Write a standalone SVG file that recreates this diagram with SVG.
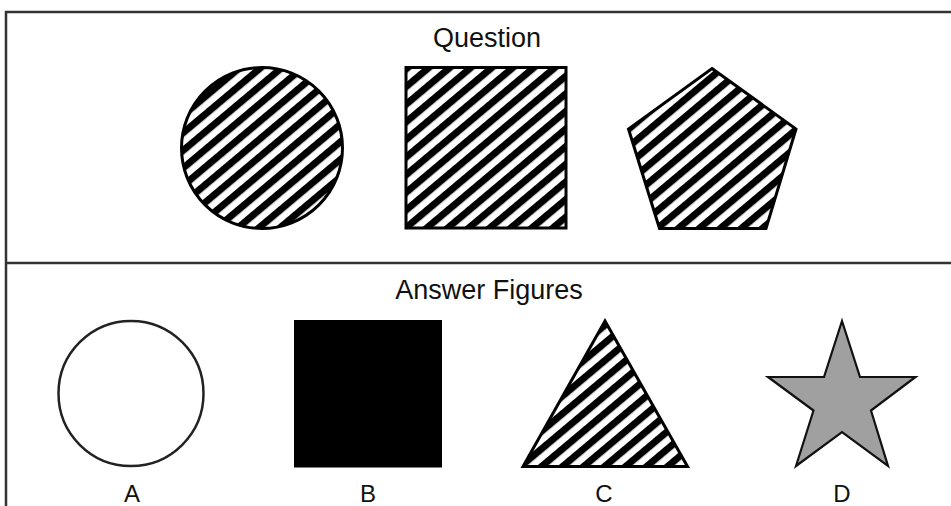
<svg xmlns="http://www.w3.org/2000/svg" width="951" height="506" viewBox="0 0 951 506">
  <style>
    .title { font-family: "Liberation Sans", Arial, sans-serif; font-size: 27px; fill: #111; text-anchor: middle; }
    .label { font-family: "Liberation Sans", Arial, sans-serif; font-size: 24px; fill: #111; text-anchor: middle; }
    .frame { fill: none; stroke: #333; stroke-width: 2.5; }
    .hatched { fill: url(#hatch); stroke: #000; stroke-width: 3; stroke-linejoin: miter; }
  </style>
  <defs>
    <pattern id="hatch" patternUnits="userSpaceOnUse" width="40" height="13.5" patternTransform="rotate(-40)">
      <rect x="0" y="0" width="40" height="13.5" fill="#fff"/>
      <rect x="0" y="0" width="40" height="7" fill="#000"/>
    </pattern>
  </defs>
  <rect x="0" y="0" width="951" height="506" fill="#fff"/>

  <g id="frame">
    <path class="frame" d="M6,520 V12 H960"/>
    <line class="frame" x1="6" y1="263" x2="960" y2="263"/>
  </g>

  <g id="question-title"><text class="title" x="487" y="47">Question</text></g>
  <g id="q-circle"><circle class="hatched" cx="262" cy="148" r="80.5"/></g>
  <g id="q-square"><rect class="hatched" x="406" y="67.5" width="160" height="160.5"/></g>
  <g id="q-pentagon"><polygon class="hatched" points="712,68.5 796,129 766,228.5 659.5,228.5 628.5,129"/></g>

  <g id="answer-title"><text class="title" x="489" y="299">Answer Figures</text></g>

  <g id="answer-a">
    <circle cx="131" cy="393.5" r="72.5" fill="#fff" stroke="#222" stroke-width="2.5"/>
    <text class="label" x="132" y="502">A</text>
  </g>
  <g id="answer-b">
    <rect x="294" y="320" width="148" height="147.5" fill="#000"/>
    <text class="label" x="368" y="502">B</text>
  </g>
  <g id="answer-c">
    <polygon class="hatched" points="605,321 687.5,466.5 523,466.5"/>
    <text class="label" x="604" y="502">C</text>
  </g>
  <g id="answer-d">
    <polygon points="842,321 860,377 915.5,377 871,410.5 888,466 842,432 796,466 813.5,410.5 768,377 824,377" fill="#a0a0a0" stroke="#111" stroke-width="2.2" stroke-linejoin="miter"/>
    <text class="label" x="842" y="502">D</text>
  </g>
</svg>
